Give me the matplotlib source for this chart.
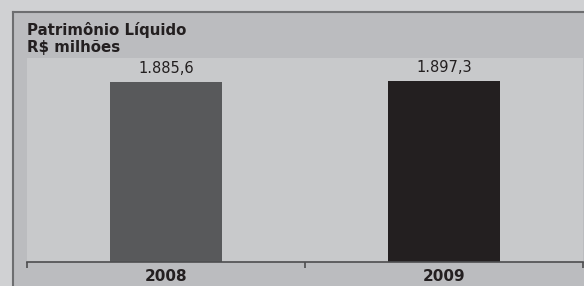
import matplotlib
matplotlib.use("Agg")
import matplotlib.pyplot as plt
from matplotlib.patches import Rectangle
from matplotlib.lines import Line2D

categories = ["2008", "2009"]
values = [1885.6, 1897.3]
value_labels = ["1.885,6", "1.897,3"]
title_lines = ["Patrimônio Líquido", "R$ milhões"]
bar_colors = ["#58595b", "#231f20"]

W, H = 584, 286
fig = plt.figure(figsize=(W / 100, H / 100), dpi=100)
fig.patch.set_facecolor("#d0d1d3")

def fx(px):
    return px / W

def fy(py):
    return 1 - py / H

# panel
fig.patches.append(Rectangle((fx(12), 0), 1 - fx(12), fy(11), transform=fig.transFigure,
                             facecolor="#bbbcbf", edgecolor="none", zorder=-5))
fig.lines.append(Line2D([fx(12.5), fx(12.5)], [0, fy(11.5)], transform=fig.transFigure,
                        color="#6d6e70", lw=1.5, zorder=-4))
fig.lines.append(Line2D([fx(12.5), 1], [fy(11.5), fy(11.5)], transform=fig.transFigure,
                        color="#6d6e70", lw=1.5, zorder=-4))

ax = fig.add_axes([fx(27), fy(262), fx(583) - fx(27), fy(58) - fy(262)])
ax.set_zorder(1)
ax.set_facecolor("#c8c9cb")
x = list(range(len(categories)))
bars = ax.bar(x, values, width=0.40, color=bar_colors, zorder=2)
ax.set_xlim(-0.5, len(categories) - 0.5)
ax.set_ylim(0, 2135)
for b, lab in zip(bars, value_labels):
    ax.annotate(lab, (b.get_x() + b.get_width() / 2, b.get_height()),
                xytext=(0, 4), textcoords="offset points", ha="center", va="bottom",
                fontsize=10.5, color="#231f20")

for s in ["top", "right", "left"]:
    ax.spines[s].set_visible(False)
ax.spines["bottom"].set_color("#4d4d4f")
ax.spines["bottom"].set_linewidth(1.2)
ax.set_yticks([])
ax.set_xticks(x)
ax.set_xticklabels(categories, fontsize=11, fontweight="bold", color="#231f20")
ax.tick_params(axis="x", which="major", length=0, pad=5)
ax.set_xticks([-0.5, 0.5, 1.5], minor=True)
ax.tick_params(axis="x", which="minor", length=4, width=1.2, color="#4d4d4f")

fig.text(fx(27), fy(35), title_lines[0], fontsize=10.8, fontweight="bold", color="#231f20",
         va="baseline", ha="left")
fig.text(fx(27), fy(52), title_lines[1], fontsize=10.8, fontweight="bold", color="#231f20",
         va="baseline", ha="left")

fig.savefig("out.png", dpi=100, facecolor=fig.get_facecolor())
